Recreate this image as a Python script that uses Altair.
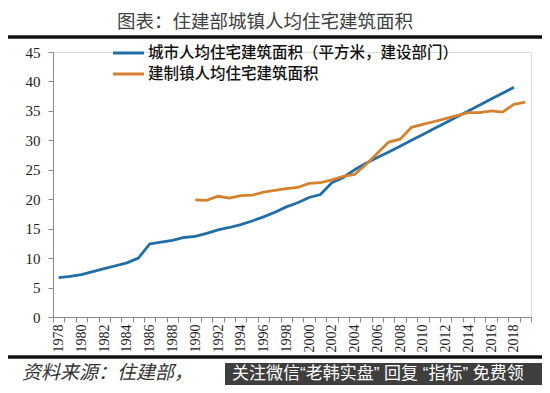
import altair as alt
import pandas as pd

# ---------------- data ----------------
years = list(range(1978, 2020))
city_years = list(range(1978, 2019))
city_values = [6.7, 6.9, 7.2, 7.7, 8.2, 8.7, 9.2, 10.0, 12.4, 12.7,
               13.0, 13.5, 13.7, 14.2, 14.8, 15.2, 15.7, 16.3, 17.0, 17.8,
               18.7, 19.4, 20.3, 20.8, 22.8, 23.7, 25.0, 26.1, 27.1, 28.0,
               29.0, 30.0, 31.0, 32.0, 33.0, 34.0, 35.0, 36.0, 37.0, 38.0,
               39.0]
town_years = list(range(1990, 2020))
town_values = [19.9, 19.8, 20.5, 20.2, 20.6, 20.7, 21.2, 21.5, 21.8, 22.0,
               22.7, 22.8, 23.3, 23.9, 24.2, 25.9, 27.8, 29.7, 30.2, 32.2,
               32.7, 33.2, 33.7, 34.2, 34.7, 34.7, 35.0, 34.8, 36.1, 36.5]
series_names = ["城市人均住宅建筑面积（平方米，建设部门）", "建制镇人均住宅建筑面积"]
series_colors = ["#1f6ea8", "#d5812f"]
y_ticks = [0, 5, 10, 15, 20, 25, 30, 35, 40, 45]

title_text = "图表：住建部城镇人均住宅建筑面积"
source_text = "资料来源：住建部，"
watermark_text = "关注微信“老韩实盘” 回复 “指标” 免费领"

rows = [{"year": y, "value": v, "series": series_names[0]} for y, v in zip(city_years, city_values)]
rows += [{"year": y, "value": v, "series": series_names[1]} for y, v in zip(town_years, town_values)]
df = pd.DataFrame(rows)

W, H = 478, 265
CJK = "Noto Sans CJK SC"
MIXED = "Liberation Sans, Noto Sans CJK SC"
SERIF = "Liberation Serif"

lines = alt.Chart(df).mark_line(strokeWidth=2.8).encode(
    x=alt.X("year:O",
            scale=alt.Scale(type="band", domain=years, paddingInner=0, paddingOuter=0),
            axis=alt.Axis(title=None, labelAngle=270,
                          labelExpr="datum.value % 2 == 0 ? datum.label : ''",
                          tickBand="extent", tickSize=5, labelPadding=2,
                          labelFont=SERIF, labelFontSize=14, labelColor="#222222",
                          domainColor="#8a8a8a", tickColor="#8a8a8a", grid=False)),
    y=alt.Y("value:Q",
            scale=alt.Scale(domain=[0, 45], nice=False, zero=True),
            axis=alt.Axis(title=None, values=y_ticks, grid=False, tickSize=5,
                          labelPadding=8, labelFont=SERIF, labelFontSize=15,
                          labelColor="#222222", domainColor="#8a8a8a",
                          tickColor="#8a8a8a")),
    color=alt.Color("series:N", scale=alt.Scale(domain=series_names, range=series_colors),
                    legend=None),
)

one = alt.Data(values=[{"k": 1}])

# legend (manual)
leg_layers = []
for i, (name, col) in enumerate(zip(series_names, series_colors)):
    yy = 1 + i * 21
    leg_layers.append(alt.Chart(one).mark_rule(color=col, strokeWidth=3).encode(
        x=alt.value(60), x2=alt.value(91), y=alt.value(yy)))
    leg_layers.append(alt.Chart(one).mark_text(
        text=name, font=CJK, fontSize=15.5, align="left", baseline="middle",
        color="#111111", fontWeight=500).encode(x=alt.value(95), y=alt.value(yy)))

title = alt.Chart(one).mark_text(text=title_text, font=CJK, fontSize=18.5,
                                 align="center", baseline="middle",
                                 color="#404040").encode(x=alt.value(212), y=alt.value(-30))
top_bar = alt.Chart(one).mark_rule(color="#111111", strokeWidth=3.5).encode(
    x=alt.value(-45), x2=alt.value(489), y=alt.value(-15))
bottom_bar = alt.Chart(one).mark_rule(color="#111111", strokeWidth=3.5).encode(
    x=alt.value(-45), x2=alt.value(489), y=alt.value(305))
source = alt.Chart(one).mark_text(text=source_text, font=CJK, fontSize=19,
                                  fontStyle="italic", align="left", baseline="middle",
                                  color="#333333").encode(x=alt.value(-31), y=alt.value(321))
wm_box = alt.Chart(one).mark_rect(color="#2e2e2e", opacity=0.92).encode(
    x=alt.value(172), x2=alt.value(489), y=alt.value(311), y2=alt.value(333))
wm_text = alt.Chart(one).mark_text(text=watermark_text, font=MIXED, fontSize=17,
                                   align="left", baseline="middle",
                                   color="#ffffff").encode(x=alt.value(179), y=alt.value(322))

chart = alt.layer(lines, title, top_bar, bottom_bar, source, wm_box, wm_text, *leg_layers).properties(
    width=W, height=H,
    autosize=alt.AutoSizeParams(type="none"),
    padding={"left": 45, "top": 44, "right": 11, "bottom": 68},
).configure_view(stroke=None).configure(background="#ffffff")

chart.save("out.html", embed_options={"renderer": "svg", "actions": False})
